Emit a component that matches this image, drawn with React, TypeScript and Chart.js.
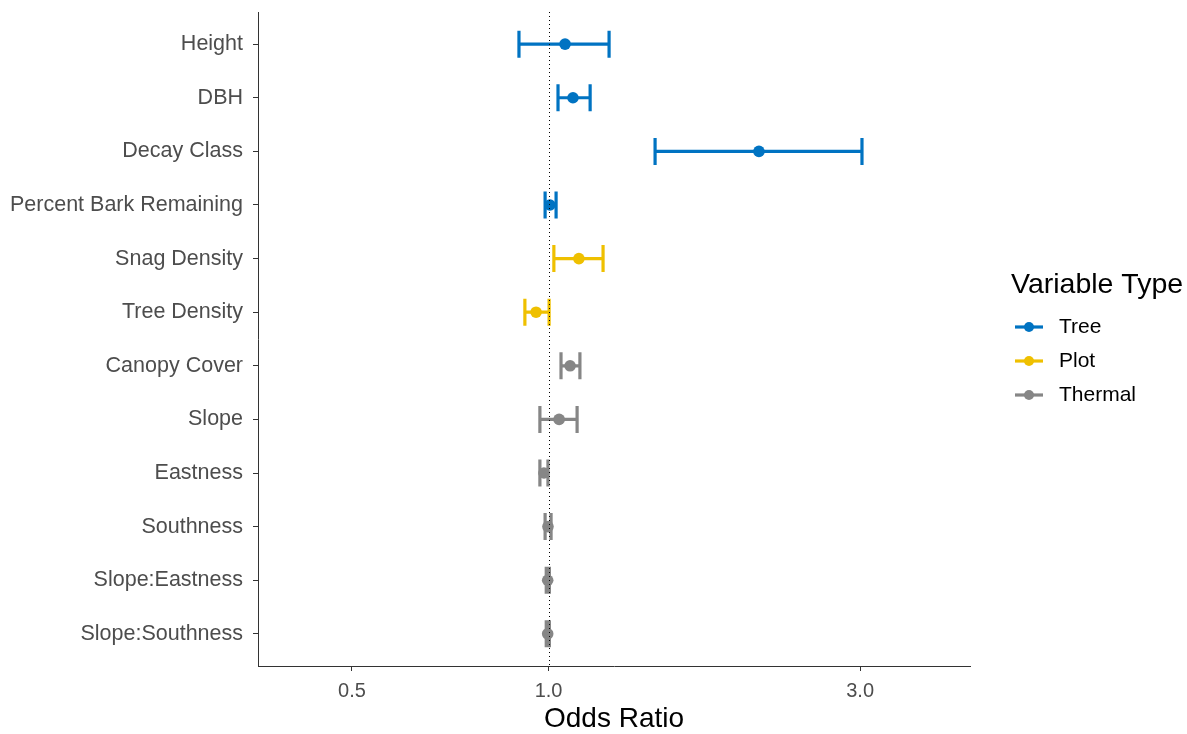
import React, { useEffect, useRef } from "react";
import { Chart, registerables } from "chart.js";

Chart.register(...registerables);

const variables = [
  "Height", "DBH", "Decay Class", "Percent Bark Remaining", "Snag Density", "Tree Density",
  "Canopy Cover", "Slope", "Eastness", "Southness", "Slope:Eastness", "Slope:Southness",
];
const groups = ["Tree", "Tree", "Tree", "Tree", "Plot", "Plot", "Thermal", "Thermal", "Thermal", "Thermal", "Thermal", "Thermal"];
const oddsRatio = [1.06, 1.09, 2.1, 1.005, 1.113, 0.957, 1.079, 1.038, 0.984, 0.998, 0.997, 0.997];
const lower = [0.901, 1.034, 1.456, 0.988, 1.019, 0.92, 1.045, 0.97, 0.97, 0.988, 0.992, 0.992];
const upper = [1.238, 1.158, 3.02, 1.027, 1.212, 1.002, 1.117, 1.106, 0.998, 1.009, 1.003, 1.003];
const groupNames = ["Tree", "Plot", "Thermal"];
const groupColors = ["#0073C2", "#EFC000", "#868686"];
const xTicks = [0.5, 1, 3];
const xTickLabels = ["0.5", "1.0", "3.0"];

const FONT = "'Liberation Sans', Arial, sans-serif";

export default function App() {
  const ref = useRef<HTMLCanvasElement>(null);
  useEffect(() => {
    const datasets = groupNames.map((g, gi) => {
      const idx = variables.map((_, i) => i).filter((i) => groups[i] === g);
      return {
        label: g,
        data: idx.map((i) => ({ x: oddsRatio[i], y: i + 1, lo: lower[i], hi: upper[i] })),
        backgroundColor: groupColors[gi],
        borderColor: groupColors[gi],
        pointRadius: 5.8,
        pointBorderWidth: 0,
        showLine: false,
      };
    });

    const errorBars = {
      id: "errorBars",
      beforeDatasetsDraw(chart: any) {
        const ctx = chart.ctx;
        const xs = chart.scales.x;
        const ys = chart.scales.y;
        ctx.save();
        chart.data.datasets.forEach((ds: any) => {
          ctx.strokeStyle = ds.borderColor;
          ctx.lineWidth = 3.2;
          ds.data.forEach((d: any) => {
            const y = ys.getPixelForValue(d.y);
            const x0 = xs.getPixelForValue(d.lo);
            const x1 = xs.getPixelForValue(d.hi);
            ctx.beginPath();
            ctx.moveTo(x0, y);
            ctx.lineTo(x1, y);
            ctx.moveTo(x0, y - 13.5);
            ctx.lineTo(x0, y + 13.5);
            ctx.moveTo(x1, y - 13.5);
            ctx.lineTo(x1, y + 13.5);
            ctx.stroke();
          });
        });
        ctx.restore();
      },
      afterDatasetsDraw(chart: any) {
        const ctx = chart.ctx;
        const xs = chart.scales.x;
        const a = chart.chartArea;
        const x = Math.round(xs.getPixelForValue(1)) + 0.5;
        ctx.save();
        ctx.strokeStyle = "#000";
        ctx.lineWidth = 1;
        ctx.setLineDash([1, 3]);
        ctx.beginPath();
        ctx.moveTo(x, a.top);
        ctx.lineTo(x, a.bottom);
        ctx.stroke();
        ctx.restore();
      },
      afterDraw(chart: any) {
        const ctx = chart.ctx;
        ctx.save();
        ctx.fillStyle = "#000";
        ctx.font = `28.5px ${FONT}`;
        ctx.textBaseline = "middle";
        ctx.textAlign = "left";
        ctx.fillText("Variable Type", 1011, 285);
        groupNames.forEach((g, i) => {
          const y = 327 + i * 34;
          ctx.strokeStyle = groupColors[i];
          ctx.fillStyle = groupColors[i];
          ctx.lineWidth = 3.2;
          ctx.beginPath();
          ctx.moveTo(1015, y);
          ctx.lineTo(1043, y);
          ctx.stroke();
          ctx.beginPath();
          ctx.arc(1029, y, 5, 0, Math.PI * 2);
          ctx.fill();
          ctx.fillStyle = "#000";
          ctx.font = `21px ${FONT}`;
          ctx.fillText(g, 1059, y);
        });
        ctx.restore();
      },
    };

    const chart = new Chart(ref.current!, {
      type: "scatter",
      data: { datasets: datasets as any },
      plugins: [errorBars],
      options: {
        animation: false,
        responsive: false,
        layout: { padding: { top: 12, right: 217, left: 0, bottom: 0 } },
        plugins: { legend: { display: false }, tooltip: { enabled: false } },
        scales: {
          x: {
            type: "logarithmic",
            min: 0.359,
            max: 4.42,
            afterBuildTicks: (s: any) => {
              s.ticks = xTicks.map((v) => ({ value: v }));
            },
            afterFit: (s: any) => {
              s.height = 68;
              s.paddingLeft = 0;
              s.paddingRight = 0;
            },
            ticks: {
              autoSkip: false,
              maxRotation: 0,
              color: "#4D4D4D",
              font: { family: FONT, size: 20 },
              padding: 8,
              callback: (v: any) => {
                const i = xTicks.indexOf(Number(v));
                return i >= 0 ? xTickLabels[i] : "";
              },
            },
            grid: { drawOnChartArea: false, drawTicks: true, tickLength: 5, color: "#333", lineWidth: 1 },
            border: { display: true, color: "#333", width: 1 },
            title: { display: true, text: "Odds Ratio", color: "#000", font: { family: FONT, size: 28 }, padding: { top: 0, bottom: -2 } },
          },
          y: {
            type: "linear",
            reverse: true,
            min: 0.4,
            max: 12.6,
            afterBuildTicks: (s: any) => {
              s.ticks = variables.map((_, i) => ({ value: i + 1 }));
            },
            afterFit: (s: any) => {
              s.width = 258;
              s.paddingTop = 0;
              s.paddingBottom = 0;
            },
            ticks: {
              autoSkip: false,
              color: "#4D4D4D",
              font: { family: FONT, size: 21.5 },
              padding: 10,
              callback: (v: any) => variables[Number(v) - 1] ?? "",
            },
            grid: { drawOnChartArea: false, drawTicks: true, tickLength: 5, color: "#333", lineWidth: 1 },
            border: { display: true, color: "#333", width: 1 },
          },
        },
      },
    });
    return () => chart.destroy();
  }, []);

  return (
    <div style={{ position: "fixed", left: 0, top: 0, width: 1187, height: 734, background: "#fff" }}>
      <canvas ref={ref} width={1187} height={734} style={{ width: 1187, height: 734 }} />
    </div>
  );
}
